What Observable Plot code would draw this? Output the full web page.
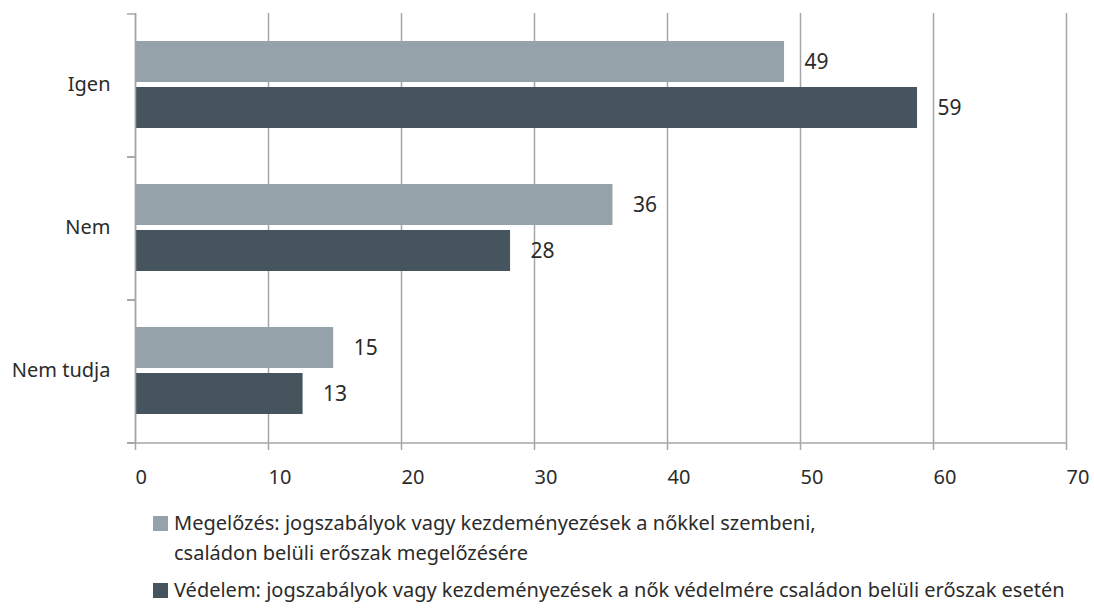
<!DOCTYPE html>
<html>
<head>
<meta charset="utf-8">
<script src="https://cdn.jsdelivr.net/npm/d3@7"></script>
<script src="https://cdn.jsdelivr.net/npm/@observablehq/plot@0.6"></script>
<style>
  html, body { margin: 0; padding: 0; background: #fff; }
  body { width: 1094px; height: 608px; overflow: hidden; font-family: "Noto Sans", sans-serif; color: #2b2b2b; }
  #legend { margin-top: 4px; padding-left: 153px; font-size: 20px; line-height: 30px; white-space: nowrap; }
  .item { display: flex; align-items: flex-start; }
  .item + .item { margin-top: 7px; }
  .sw { width: 15px; height: 15px; margin-top: 8px; margin-right: 6px; flex: none; }
</style>
</head>
<body>
<div id="chart"></div>
<div id="legend"></div>
<script>
// ---- data ----
const categories = ["Igen", "Nem", "Nem tudja"];
const seriesNames = ["Megelőzés", "Védelem"];
const preventionValues = [48.8, 35.9, 14.9];
const protectionValues = [58.8, 28.2, 12.6];
const preventionLabels = ["49", "36", "15"];
const protectionLabels = ["59", "28", "13"];
const xTicks = [0, 10, 20, 30, 40, 50, 60, 70];
const legendLines = [
  ["Megelőzés: jogszabályok vagy kezdeményezések a nőkkel szembeni,", "családon belüli erőszak megelőzésére"],
  ["Védelem: jogszabályok vagy kezdeményezések a nők védelmére családon belüli erőszak esetén"]
];
const seriesColors = ["#96a2aa", "#46545e"];

// ---- table built from arrays ----
const rows = categories.flatMap((c, i) => [
  {cat: c, series: seriesNames[0], value: preventionValues[i], label: preventionLabels[i]},
  {cat: c, series: seriesNames[1], value: protectionValues[i], label: protectionLabels[i]}
]);

const axisColor = "#a6a6a6";
const textColor = "#2b2b2b";

// boundary ticks on the category axis + bottom axis line, drawn from the library's scales
function categoryFrame(index, scales, values, dims) {
  const g = d3.create("svg:g").attr("stroke", axisColor).attr("stroke-width", 1.5);
  const fy = scales.fy, x = scales.x;
  const x0 = x(0);
  const edges = categories.map(c => fy(c));
  edges.forEach(e => g.append("line").attr("x1", x0 - 8).attr("x2", x0).attr("y1", e).attr("y2", e));
  const bottom = fy(categories[categories.length - 1]) + fy.bandwidth();
  g.append("line").attr("x1", x0 - 8).attr("x2", x(xTicks[xTicks.length - 1])).attr("y1", bottom).attr("y2", bottom);
  return g.node();
}

const chart = Plot.plot({
  width: 1094,
  height: 504,
  marginLeft: 135,
  marginRight: 28,
  marginTop: 12,
  marginBottom: 61,
  style: {fontFamily: "'Noto Sans', sans-serif", fontSize: "20px", color: textColor, background: "#fff"},
  x: {domain: [0, 70], axis: null},
  y: {domain: seriesNames, paddingInner: 0.11, paddingOuter: 0.6, axis: null},
  fy: {domain: categories, padding: 0, axis: null},
  color: {domain: seriesNames, range: seriesColors},
  marks: [
    Plot.gridX({ticks: xTicks, stroke: axisColor, strokeOpacity: 1, strokeWidth: 1.5}),
    Plot.barX(rows, {fy: "cat", y: "series", x: "value", fill: "series"}),
    Plot.text(rows, {fy: "cat", y: "series", x: "value", text: "label", textAnchor: "start", dx: 20, fontSize: 21, fill: textColor}),
    Plot.ruleX([0], {stroke: axisColor, strokeWidth: 1.5}),
    Plot.axisFy({anchor: "left", tickSize: 0, tickPadding: 25, fontSize: 20, fill: textColor, label: null}),
    Plot.axisX({ticks: xTicks, anchor: "bottom", tickSize: 8, tickPadding: 19, stroke: axisColor, strokeWidth: 1.5, fontSize: 20, fill: textColor, textAnchor: "start", label: null, tickFormat: d => String(d)}),
    categoryFrame
  ]
});
document.getElementById("chart").appendChild(chart);

// ---- legend ----
const legend = d3.select("#legend");
legendLines.forEach((lines, i) => {
  const item = legend.append("div").attr("class", "item");
  item.append("div").attr("class", "sw").style("background", seriesColors[i]);
  const t = item.append("div");
  lines.forEach(l => t.append("div").text(l));
});
</script>
</body>
</html>
